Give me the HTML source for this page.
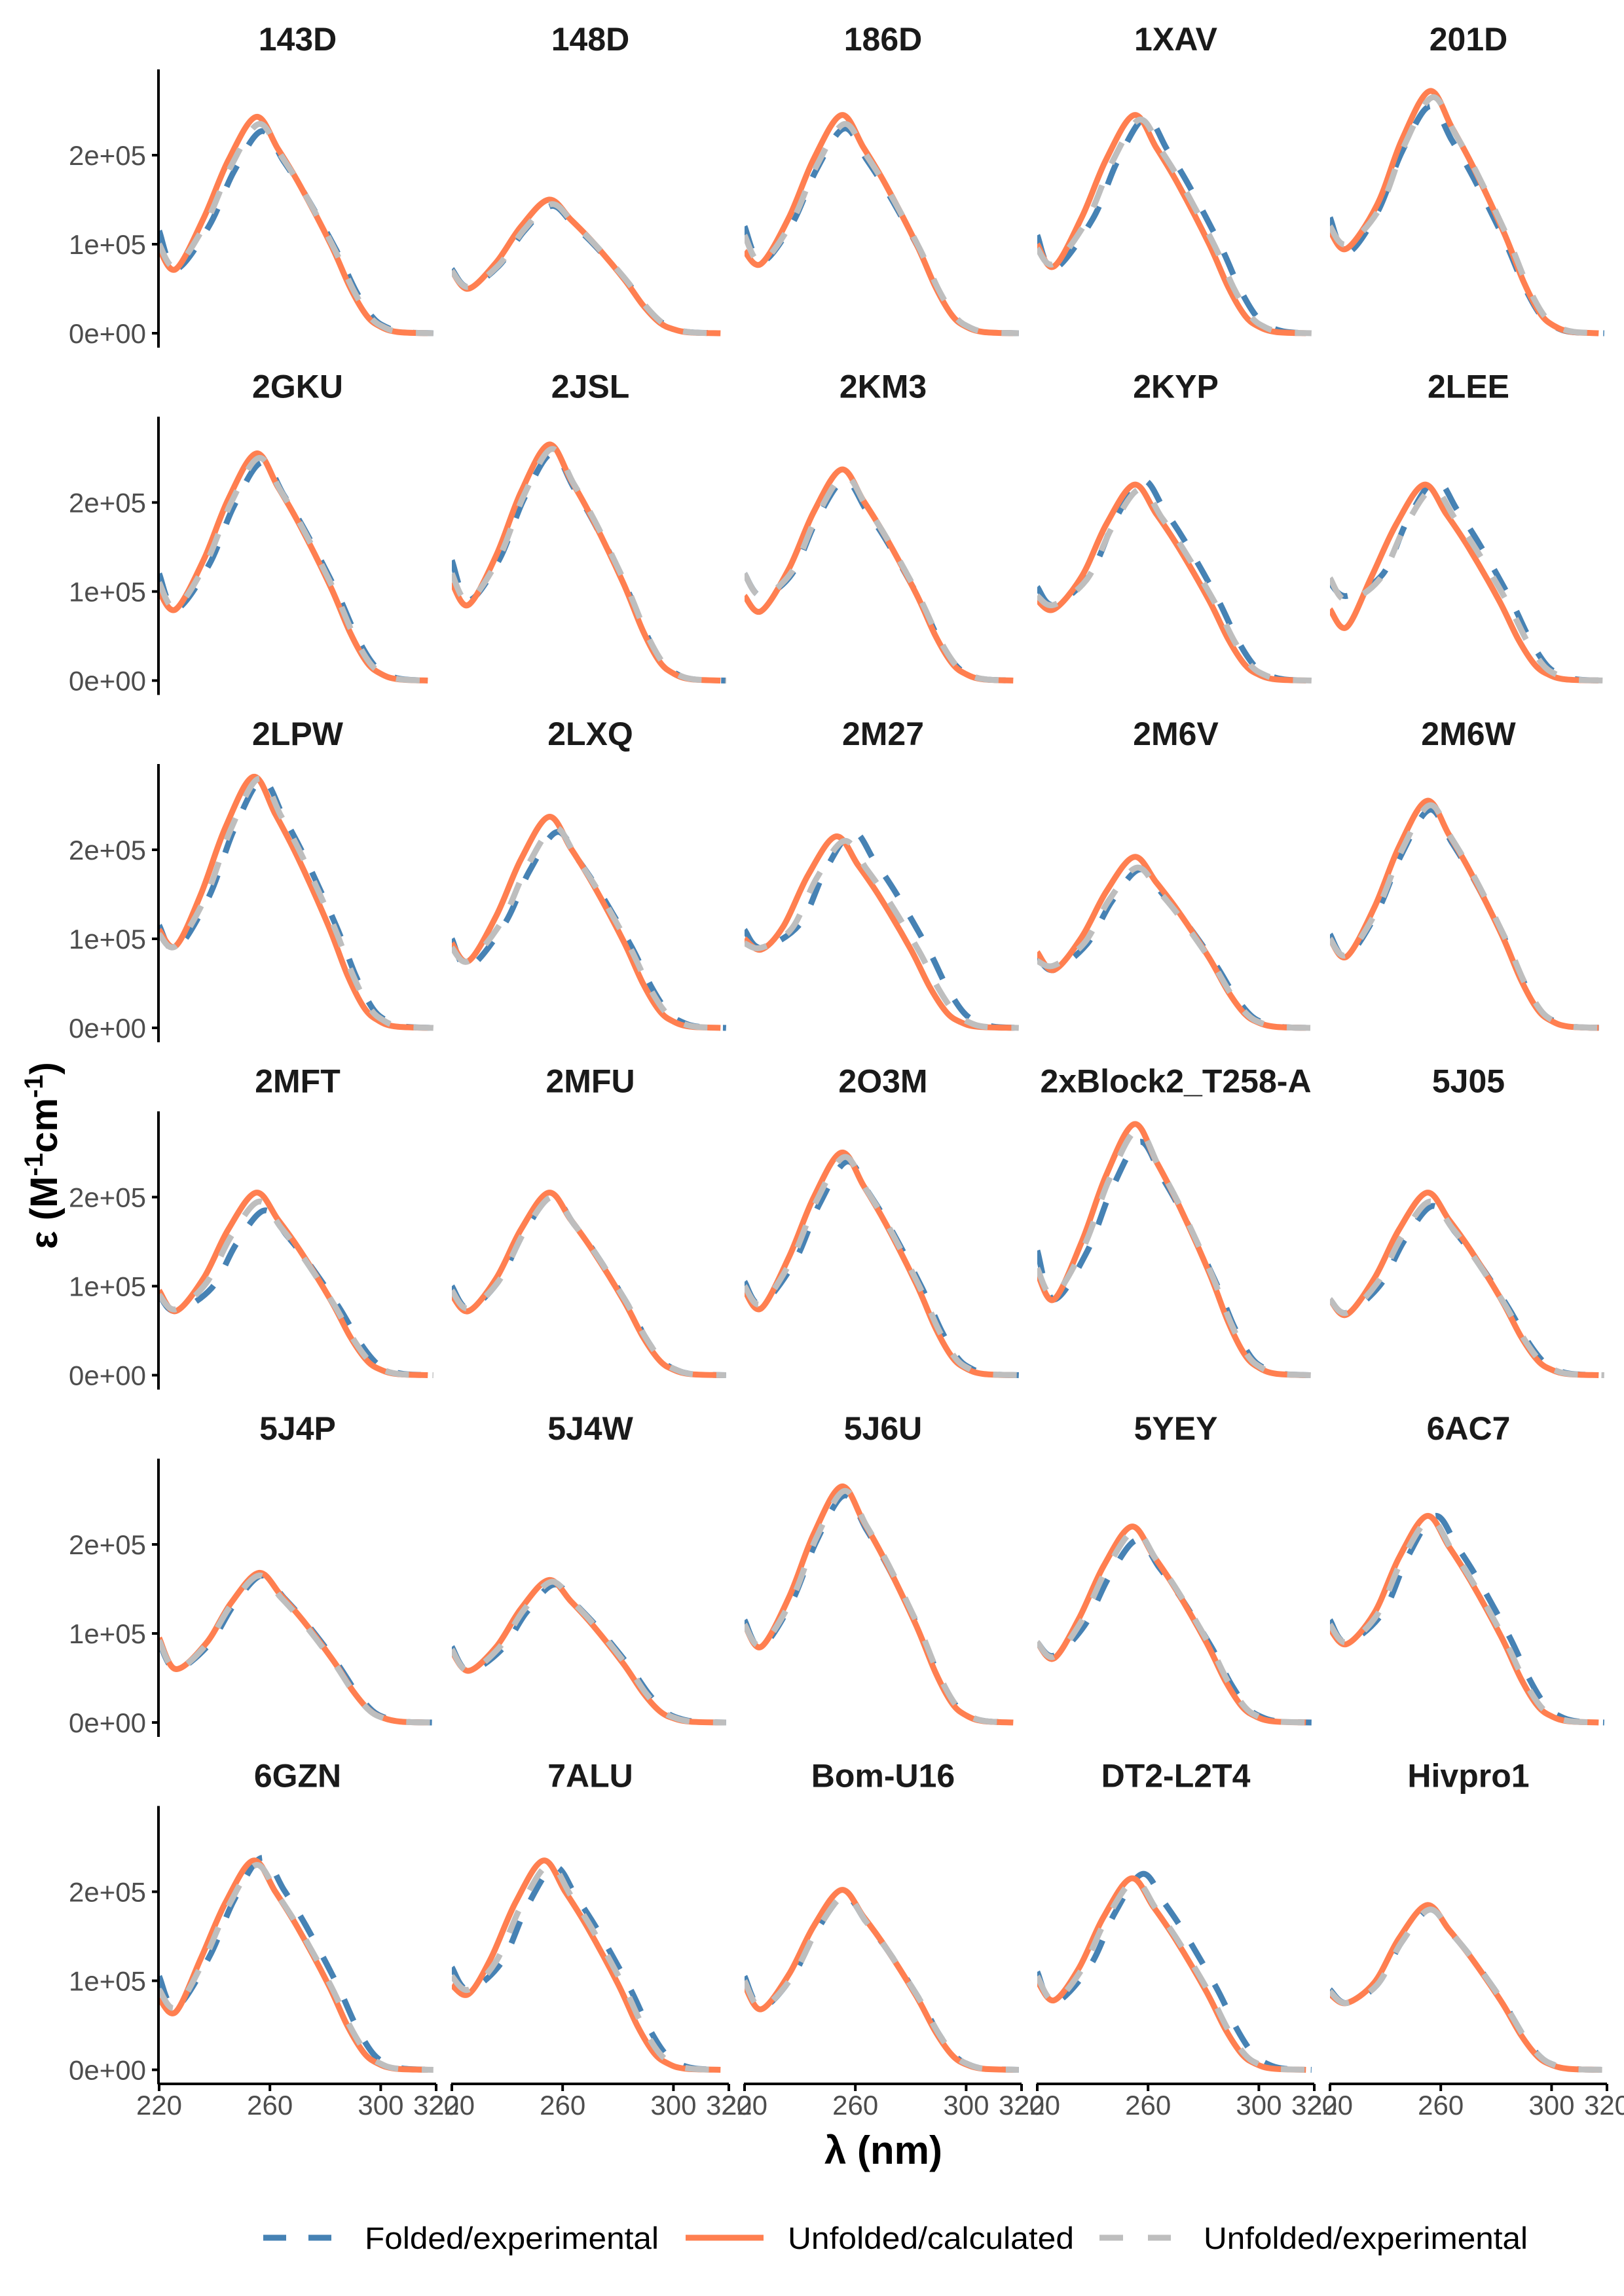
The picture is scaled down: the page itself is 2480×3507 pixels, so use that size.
<!DOCTYPE html>
<html><head><meta charset="utf-8"><style>
html,body{margin:0;padding:0;background:#fff;}
svg{display:block;}
text{font-family:"Liberation Sans",Arial,sans-serif;}
</style></head><body>
<svg id="s" width="2480" height="3507" xmlns="http://www.w3.org/2000/svg"></svg>
<script>
const svg=document.getElementById('s');
let out='';
const L0=243,PW=423,PG=447;
const ROW0_TOP=106,RP=530.5,ZERO0=509,PER=136;
const D=[
["143D",[2.27,1.15,0.72,2],[2.43,0.95,0.72,0],[2.35,1.0,0.75,1]],
["148D",[1.43,0.72,0.52,1],[1.5,0.7,0.5,0],[1.45,0.7,0.52,1]],
["186D",[2.3,1.2,0.8,1],[2.45,0.92,0.78,0],[2.35,1.1,0.8,1]],
["1XAV",[2.42,1.1,0.72,4],[2.45,1.0,0.75,0],[2.4,0.95,0.78,2]],
["201D",[2.55,1.3,0.9,1],[2.72,1.15,0.95,1],[2.65,1.2,1.0,2]],
["2GKU",[2.45,1.2,0.8,2],[2.55,1.0,0.8,0],[2.5,1.1,0.82,1]],
["2JSL",[2.55,1.35,0.9,1],[2.65,1.1,0.85,0],[2.6,1.2,0.9,1]],
["2KM3",[2.25,1.2,0.95,1],[2.37,0.95,0.78,0],[2.3,1.2,0.95,1]],
["2KYP",[2.25,1.05,0.85,3],[2.2,0.9,0.8,0],[2.15,0.95,0.85,2]],
["2LEE",[2.25,1.1,0.95,3],[2.2,0.8,0.6,-1],[2.15,1.15,0.9,2]],
["2LPW",[2.78,1.15,0.88,2],[2.82,1.1,0.92,-1],[2.8,1.05,0.92,1]],
["2LXQ",[2.2,1.0,0.68,3],[2.37,0.95,0.75,0],[2.25,0.9,0.75,2]],
["2M27",[2.2,1.1,0.9,4],[2.15,1.0,0.88,-2],[2.1,0.95,0.9,1]],
["2M6V",[1.78,0.8,0.65,2],[1.92,0.85,0.65,0],[1.8,0.75,0.7,1]],
["2M6W",[2.45,1.05,0.8,1],[2.55,1.0,0.8,0],[2.5,1.0,0.82,1]],
["2MFT",[1.85,0.9,0.72,3],[2.05,0.95,0.72,0],[1.95,0.9,0.74,1]],
["2MFU",[2.0,1.0,0.75,1],[2.05,0.9,0.72,0],[2.0,0.95,0.75,1]],
["2O3M",[2.4,1.05,0.8,2],[2.5,0.95,0.75,0],[2.45,1.0,0.8,1]],
["2xBlock2_T258-A",[2.62,1.4,0.85,2],[2.82,1.15,0.85,0],[2.75,1.2,0.9,1]],
["5J05",[1.9,0.85,0.7,2],[2.05,0.85,0.68,0],[1.95,0.85,0.7,1]],
["5J4P",[1.65,0.9,0.6,2],[1.68,0.95,0.6,1],[1.65,0.92,0.6,1]],
["5J4W",[1.55,0.85,0.58,2],[1.6,0.8,0.58,0],[1.58,0.82,0.58,1]],
["5J6U",[2.55,1.15,0.85,1],[2.65,1.1,0.85,0],[2.6,1.1,0.87,1]],
["5YEY",[2.05,0.9,0.75,1],[2.2,0.9,0.72,-1],[2.15,0.9,0.74,0]],
["6AC7",[2.32,1.15,0.9,3],[2.32,1.05,0.88,0],[2.28,1.1,0.9,1]],
["6GZN",[2.38,1.05,0.7,2],[2.35,0.8,0.65,-1],[2.3,0.9,0.7,0]],
["7ALU",[2.28,1.15,0.9,2],[2.35,0.95,0.85,-2],[2.3,1.05,0.9,0]],
["Bom-U16",[1.95,1.05,0.7,1],[2.02,0.95,0.68,0],[1.95,1.0,0.7,1]],
["DT2-L2T4",[2.2,1.1,0.75,3],[2.15,1.0,0.78,-1],[2.12,1.05,0.78,0]],
["Hivpro1",[1.8,0.9,0.75,1],[1.85,0.85,0.75,0],[1.8,0.88,0.75,1]]
];
function pts(p,end){
  const [P,a,m,d]=p;
  return [[220,a],[226,m],[236+d,0.53*P],[245+d,0.80*P],[255+d,P],[263+d,0.85*P],[271+d,0.68*P],[282+d,0.41*P],[289+d,0.21*P],[295+d,0.08*P],[300+d,0.03*P],[306+d,0.006*P],[end,0]];
}
function path(p,X,Y,end){
  const q=pts(p,end).map(([l,v])=>[X(l),Y(v)]);
  let s='M'+q[0][0].toFixed(1)+','+q[0][1].toFixed(1);
  for(let i=0;i<q.length-1;i++){
    const p0=q[Math.max(0,i-1)],p1=q[i],p2=q[i+1],p3=q[Math.min(q.length-1,i+2)];
    const c1=[p1[0]+(p2[0]-p0[0])/6,p1[1]+(p2[1]-p0[1])/6];
    const c2=[p2[0]-(p3[0]-p1[0])/6,p2[1]-(p3[1]-p1[1])/6];
    s+=' C'+c1[0].toFixed(1)+','+c1[1].toFixed(1)+' '+c2[0].toFixed(1)+','+c2[1].toFixed(1)+' '+p2[0].toFixed(1)+','+p2[1].toFixed(1);
  }
  return s;
}
out+='<defs>';
for(let i=0;i<30;i++){const r=Math.floor(i/5),c=i%5;const x=L0+c*PG,y=ROW0_TOP+r*RP;
 out+=`<clipPath id="c${i}"><rect x="${x}" y="${y}" width="${PW}" height="425"/></clipPath>`;}
out+='</defs>';
D.forEach((e,i)=>{
  const r=Math.floor(i/5),c=i%5;
  const x0=L0+c*PG, z=ZERO0+r*RP;
  const X=l=>x0+(l-220)*4.23, Y=v=>z-v*PER;
  out+=`<text x="${x0+PW/2}" y="${77+r*RP}" text-anchor="middle" font-size="50" font-weight="bold" fill="#1a1a1a">${e[0]}</text>`;
  out+=`<g clip-path="url(#c${i})" fill="none">`;
  out+=`<path d="${path(e[1],X,Y,319)}" stroke="#4682B4" stroke-width="9" stroke-dasharray="36 36"/>`;
  out+=`<path d="${path(e[2],X,Y,317)}" stroke="#FF7F50" stroke-width="9"/>`;
  out+=`<path d="${path(e[3],X,Y,319)}" stroke="#BEBEBE" stroke-width="9" stroke-dasharray="36 36"/>`;
  out+='</g>';
  if(c==0){
    const top=ROW0_TOP+r*RP;
    out+=`<line x1="${x0-1}" y1="${top}" x2="${x0-1}" y2="${top+425}" stroke="#000" stroke-width="4"/>`;
    [["0e+00",0],["1e+05",1],["2e+05",2]].forEach(([t,v])=>{
      const yy=Y(v);
      out+=`<line x1="${x0-11}" y1="${yy}" x2="${x0-1}" y2="${yy}" stroke="#000" stroke-width="4"/>`;
      out+=`<text x="${x0-20}" y="${yy+15}" text-anchor="end" font-size="42" fill="#4d4d4d">${t}</text>`;
    });
  }
  if(r==5){
    const ay=3183;
    out+=`<line x1="${x0-1}" y1="${ay}" x2="${x0+PW}" y2="${ay}" stroke="#000" stroke-width="4"/>`;
    [220,260,300,320].forEach(t=>{
      const xx=X(t);
      out+=`<line x1="${xx}" y1="${ay}" x2="${xx}" y2="${ay+11}" stroke="#000" stroke-width="4"/>`;
      out+=`<text x="${xx}" y="3230" text-anchor="middle" font-size="42" fill="#4d4d4d">${t}</text>`;
    });
  }
});
out+=`<text x="1349" y="3305" text-anchor="middle" font-size="60" font-weight="bold" fill="#000">λ (nm)</text>`;
out+=`<text transform="translate(87,1765) rotate(-90)" text-anchor="middle" font-size="58" font-weight="bold" fill="#000">ε (M<tspan dy="-22" font-size="40">-1</tspan><tspan dy="22">cm</tspan><tspan dy="-22" font-size="40">-1</tspan><tspan dy="22">)</tspan></text>`;
const ly=3418;
out+=`<line x1="402" y1="${ly}" x2="506" y2="${ly}" stroke="#4682B4" stroke-width="9" stroke-dasharray="35 34"/>`;
out+=`<text x="557" y="${ly+17}" font-size="47" fill="#000" textLength="449" lengthAdjust="spacingAndGlyphs">Folded/experimental</text>`;
out+=`<line x1="1047" y1="${ly}" x2="1166" y2="${ly}" stroke="#FF7F50" stroke-width="9"/>`;
out+=`<text x="1203" y="${ly+17}" font-size="47" fill="#000" textLength="437" lengthAdjust="spacingAndGlyphs">Unfolded/calculated</text>`;
out+=`<line x1="1679" y1="${ly}" x2="1788" y2="${ly}" stroke="#BEBEBE" stroke-width="9" stroke-dasharray="36 38"/>`;
out+=`<text x="1838" y="${ly+17}" font-size="47" fill="#000" textLength="495" lengthAdjust="spacingAndGlyphs">Unfolded/experimental</text>`;
svg.innerHTML=out;
</script>
</body></html>
